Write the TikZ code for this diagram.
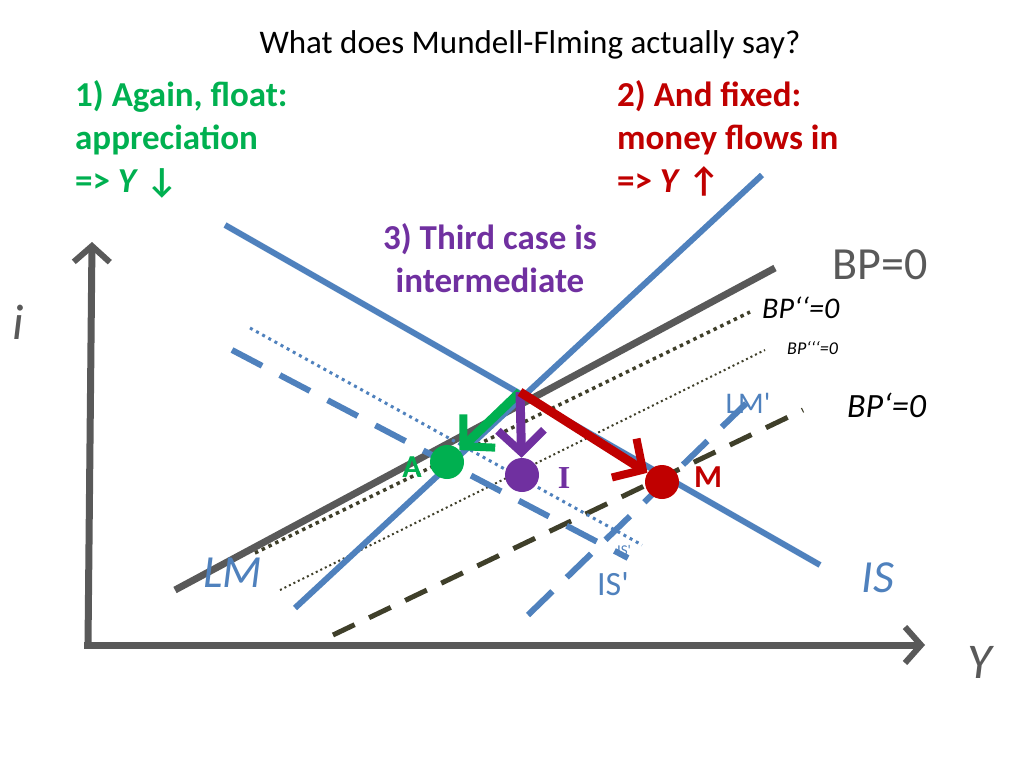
\documentclass[tikz,border=0pt]{standalone}
\usepackage{fontspec}
\setmainfont{Carlito}
\usetikzlibrary{arrows.meta}
\definecolor{gr}{HTML}{00B050}
\definecolor{rd}{HTML}{C00000}
\definecolor{pu}{HTML}{7030A0}
\definecolor{bl}{HTML}{4F81BD}
\definecolor{gy}{HTML}{595959}
\definecolor{ol}{HTML}{3F3F2A}
\tikzset{
 ax/.style={gy,line width=7pt,-{Straight Barb[length=16pt,width=36pt,line width=6pt]}},
 curve/.style={bl,line width=6pt},
 mv/.style={line width=9pt,-{Straight Barb[length=22pt,width=46pt,line width=8pt]}},
 dot/.style={circle,inner sep=0pt,minimum size=34pt},
 lab/.style={font=\fontsize{35}{43}\selectfont\bfseries,align=left,anchor=north west,inner sep=0pt},
}
\begin{document}
\begin{tikzpicture}[x=1pt,y=-1pt]
\useasboundingbox (0,0) rectangle (1024,768);
\node[font=\fontsize{33}{36}\selectfont] (title) at (530,45) {What does Mundell-Flming actually say?};
\node[lab,gr] (l1) at (75,80) {1) Again, float:\\appreciation\\=> \textit{Y} ↓};
\node[lab,rd] (l2) at (617,80) {2) And fixed:\\money flows in\\=> \textit{Y} ↑};
\node[lab,pu,align=center,anchor=center] (l3) at (490,258) {3) Third case is\\intermediate};
% axes
\coordinate (O) at (88,645);
\coordinate (xt) at (925,645);
\draw[ax] (O) -- (92,242);
\draw[ax] (84,645) -- (xt);
\node[gy,font=\fontsize{50}{50}\selectfont\itshape] (iy) at (18,322) {i};
\node[gy,font=\fontsize{50}{50}\selectfont\itshape] (Y) at (980,662) {Y};
% BP lines
\coordinate (bp1) at (175,590); \coordinate (bp2) at (775,268);
\draw[gy,line width=7pt] (bp1) -- (bp2);
\node[gy,font=\fontsize{46}{46}\selectfont] (bpl) at (880,265) {BP=0};
\coordinate (b21) at (255,553); \coordinate (b22) at (750,312);
\draw[ol,line width=3.5pt,dash pattern=on 3.5pt off 4pt] (b21) -- (b22);
\node[font=\fontsize{30}{30}\selectfont\itshape,anchor=west,inner sep=0pt] (b2l) at (762,308) {BP‘‘=0};
\coordinate (b31) at (280,590); \coordinate (b32) at (765,350);
\draw[ol,line width=2pt,dash pattern=on 2pt off 3pt] (b31) -- (b32);
\node[font=\fontsize{18}{18}\selectfont\itshape,anchor=west,inner sep=0pt] (b3l) at (787,348) {BP‘‘‘=0};
\coordinate (b41) at (333,635); \coordinate (b42) at (803,410);
\draw[ol,line width=5pt,dash pattern=on 24pt off 16pt] (b41) -- (b42);
\node[font=\fontsize{34}{34}\selectfont\itshape,anchor=west,inner sep=0pt] (b4l) at (847,405) {BP‘=0};
% IS' lines
\coordinate (is21) at (250,328); \coordinate (is22) at (642,545);
\draw[bl,line width=3pt,dash pattern=on 3pt off 4pt] (is21) -- (is22);
\coordinate (is31) at (232,350); \coordinate (is32) at (628,558);
\draw[bl,line width=6pt,dash pattern=on 34pt off 20pt] (is31) -- (is32);
\node[bl,font=\fontsize{15}{15}\selectfont] (isl2) at (624,550) {IS\textquotesingle};
\node[bl,font=\fontsize{34}{34}\selectfont] (isl) at (613,584) {IS\textquotesingle};
% LM'
\coordinate (lm21) at (528,615); \coordinate (lm22) at (760,390);
\draw[bl,line width=6pt,dash pattern=on 34pt off 20pt] (lm21) -- (lm22);
\node[bl,font=\fontsize{30}{30}\selectfont] (lml2) at (748,403) {LM\textquotesingle};
% IS, LM
\coordinate (is1) at (225,225); \coordinate (is2) at (820,565);
\draw[curve] (is1) -- (is2);
\coordinate (lm1) at (295,608); \coordinate (lm2) at (762,175);
\draw[curve] (lm1) -- (lm2);
\node[bl,font=\fontsize{46}{46}\selectfont\itshape] (lml) at (233,573) {LM};
\node[bl,font=\fontsize{46}{46}\selectfont\itshape] (isl0) at (878,578) {IS};
% points
\coordinate (E) at (520,392);
\node[dot,fill=gr] (A) at (447,462) {};
\node[dot,fill=pu] (I) at (522,475) {};
\node[dot,fill=rd] (M) at (662,482) {};
\draw[mv,gr] (E) -- (A);
\draw[mv,pu] (E) -- (I);
\draw[mv,rd] (E) -- (M);
\node[gr,font=\fontsize{32}{32}\selectfont\bfseries] (Al) at (412,467) {A};
\node[pu,font=\fontsize{32}{32}\selectfont\bfseries] (Il) at (564,478) {\fontspec{Liberation Serif}I};
\node[rd,font=\fontsize{32}{32}\selectfont\bfseries] (Ml) at (708,477) {M};
\end{tikzpicture}
\end{document}
